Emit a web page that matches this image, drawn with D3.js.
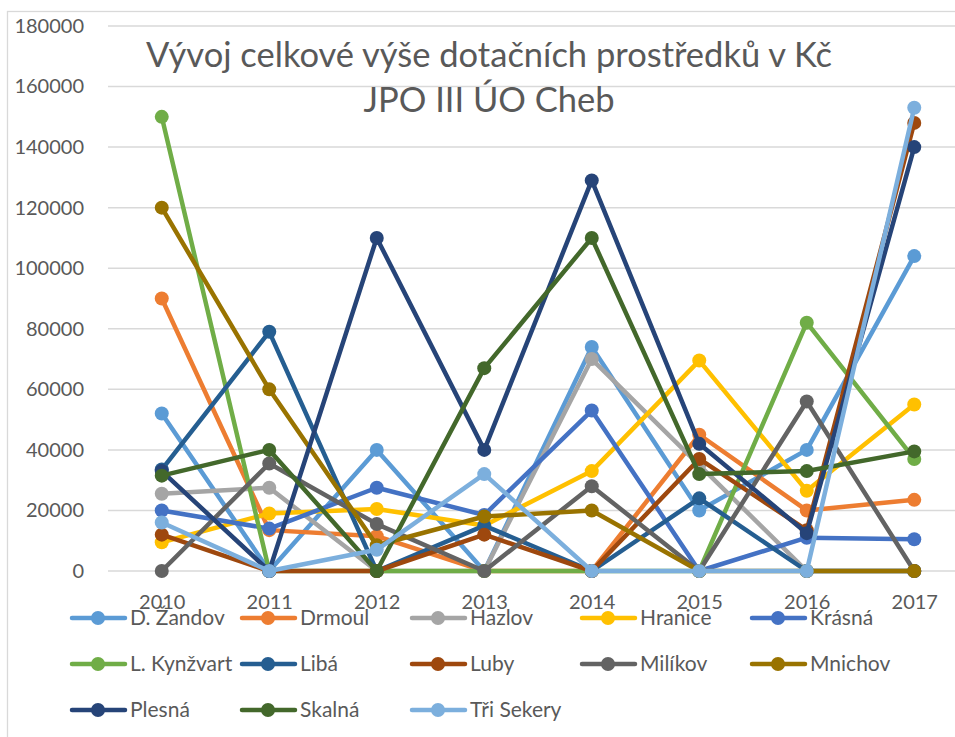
<!DOCTYPE html>
<html>
<head>
<meta charset="utf-8">
<script src="https://cdn.jsdelivr.net/npm/d3@7"></script>
<style>
  body { margin: 0; background: #fff; }
  svg { display: block; font-family: Lato, "Noto Sans", sans-serif; }
</style>
</head>
<body>
<div id="chart"></div>
<script>
// roky a hodnoty (Kč)
var years = [2010, 2011, 2012, 2013, 2014, 2015, 2016, 2017];
var yTicks = [0, 20000, 40000, 60000, 80000, 100000, 120000, 140000, 160000, 180000];

var names = ["D. Žandov", "Drmoul", "Hazlov", "Hranice", "Krásná",
  "L. Kynžvart", "Libá", "Luby", "Milíkov", "Mnichov",
  "Plesná", "Skalná", "Tři Sekery"];
var colors = ["#5B9BD5", "#ED7D31", "#A5A5A5", "#FFC000", "#4472C4",
  "#70AD47", "#255E91", "#9E480E", "#636363", "#997300",
  "#264478", "#43682B", "#7CAFDD"];

var dZandov   = [52000, 0, 40000, 0, 74000, 20000, 40000, 104000];
var drmoul    = [90000, 13500, 11500, 0, 0, 45000, 20000, 23500];
var hazlov    = [25500, 27500, 0, 0, 70000, 35000, 0, 0];
var hranice   = [9500, 19000, 20500, 15000, 33000, 69500, 26500, 55000];
var krasna    = [20000, 14000, 27500, 18500, 53000, 0, 11000, 10500];
var lKynzvart = [150000, 0, 0, 0, 0, 0, 82000, 37000];
var liba      = [33500, 79000, 0, 15000, 0, 24000, 0, 0];
var luby      = [12000, 0, 0, 12000, 0, 37000, 13500, 148000];
var milikov   = [0, 35500, 15500, 0, 28000, 0, 56000, 0];
var mnichov   = [120000, 60000, 8500, 18000, 20000, 0, 0, 0];
var plesna    = [33000, 0, 110000, 40000, 129000, 42000, 12500, 140000];
var skalna    = [31500, 40000, 0, 67000, 110000, 32000, 33000, 39500];
var triSekery = [16000, 0, 7000, 32000, 0, 0, 0, 153000];

var values = [dZandov, drmoul, hazlov, hranice, krasna, lKynzvart, liba,
  luby, milikov, mnichov, plesna, skalna, triSekery];

var series = names.map(function(n, i) {
  return { name: n, color: colors[i],
    points: years.map(function(y, j) { return { year: y, v: values[i][j] }; }) };
});

var W = 955, H = 737;
var svg = d3.select('#chart').append('svg')
  .attr('width', W).attr('height', H);

// rámeček grafu
svg.append('rect')
  .attr('x', 7.5).attr('y', 11.5)
  .attr('width', 1000).attr('height', 1000)
  .style('fill', 'none').style('stroke', '#d9d9d9').style('stroke-width', 1.3);

var x = d3.scalePoint().domain(years).range([108, 968]).padding(0.5);
var y = d3.scaleLinear().domain([0, 180000]).range([571, 26]);

// mřížka
svg.append('g')
  .selectAll('line')
  .data(yTicks)
  .enter().append('line')
  .attr('x1', 108).attr('x2', 968)
  .attr('y1', function(d) { return y(d); })
  .attr('y2', function(d) { return y(d); })
  .style('stroke', '#d9d9d9').style('stroke-width', 1.5);

// osa y
var yAxis = svg.append('g')
  .attr('transform', 'translate(92,0)')
  .call(d3.axisLeft(y).tickValues(yTicks).tickSize(0).tickPadding(8).tickFormat(d3.format('d')));
yAxis.select('.domain').remove();
yAxis.selectAll('text')
  .style('font-family', 'Lato, "Noto Sans", sans-serif')
  .style('font-size', '20px').style('fill', '#595959');

// osa x
var xAxis = svg.append('g')
  .attr('transform', 'translate(0,571)')
  .call(d3.axisBottom(x).tickSize(0).tickPadding(24));
xAxis.select('.domain').remove();
xAxis.selectAll('text')
  .style('font-family', 'Lato, "Noto Sans", sans-serif')
  .style('font-size', '20px').style('fill', '#595959');

// řady
var line = d3.line()
  .x(function(d) { return x(d.year); })
  .y(function(d) { return y(d.v); });

var sg = svg.append('g').selectAll('g')
  .data(series)
  .enter().append('g');

sg.append('path')
  .attr('d', function(d) { return line(d.points); })
  .style('fill', 'none')
  .style('stroke', function(d) { return d.color; })
  .style('stroke-width', 4.5)
  .style('stroke-linejoin', 'round')
  .style('stroke-linecap', 'round');

sg.selectAll('circle')
  .data(function(d) { return d.points.map(function(p) { return { p: p, c: d.color }; }); })
  .enter().append('circle')
  .attr('cx', function(d) { return x(d.p.year); })
  .attr('cy', function(d) { return y(d.p.v); })
  .attr('r', 7)
  .style('fill', function(d) { return d.c; });

// titulek
var title = svg.append('text')
  .attr('text-anchor', 'middle')
  .style('font-size', '34.5px')
  .style('fill', '#595959');
title.append('tspan').attr('x', 489).attr('y', 67).text('Vývoj celkové výše dotačních prostředků v Kč');
title.append('tspan').attr('x', 489).attr('y', 112).text('JPO III ÚO Cheb');

// legenda
var legend = svg.append('g').selectAll('g')
  .data(series)
  .enter().append('g')
  .attr('transform', function(d, i) {
    var lx = 70 + (i % 5) * 170;
    var ly = 618 + Math.floor(i / 5) * 46;
    return 'translate(' + lx + ',' + ly + ')';
  });

legend.append('line')
  .attr('x1', 2).attr('x2', 55).attr('y1', 0).attr('y2', 0)
  .style('stroke', function(d) { return d.color; })
  .style('stroke-width', 4.5)
  .style('stroke-linecap', 'round');

legend.append('circle')
  .attr('cx', 28).attr('cy', 0).attr('r', 7)
  .style('fill', function(d) { return d.color; });

legend.append('text')
  .attr('x', 60).attr('y', 7)
  .style('font-size', '21px')
  .style('fill', '#595959')
  .text(function(d) { return d.name; });
</script>
</body>
</html>
